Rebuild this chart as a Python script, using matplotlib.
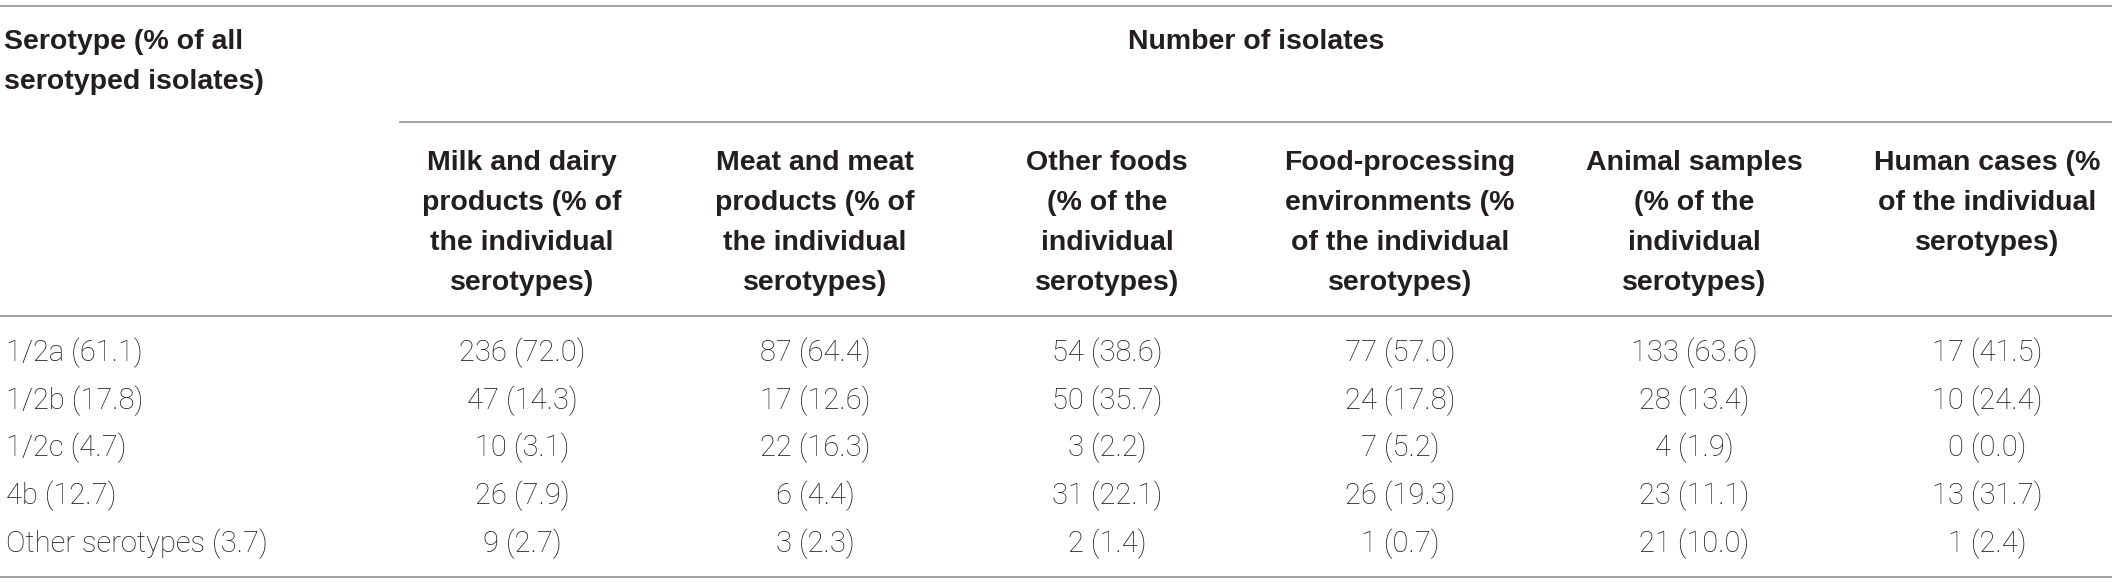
import matplotlib
matplotlib.use("Agg")
import matplotlib.pyplot as plt

# table content
serotypes = ["1/2a (61.1)", "1/2b (17.8)", "1/2c (4.7)", "4b (12.7)", "Other serotypes (3.7)"]
col_headers = [
    "Milk and dairy\nproducts (% of\nthe individual\nserotypes)",
    "Meat and meat\nproducts (% of\nthe individual\nserotypes)",
    "Other foods\n(% of the\nindividual\nserotypes)",
    "Food-processing\nenvironments (%\nof the individual\nserotypes)",
    "Animal samples\n(% of the\nindividual\nserotypes)",
    "Human cases (%\nof the individual\nserotypes)",
]
milk = ["236 (72.0)", "47 (14.3)", "10 (3.1)", "26 (7.9)", "9 (2.7)"]
meat = ["87 (64.4)", "17 (12.6)", "22 (16.3)", "6 (4.4)", "3 (2.3)"]
other_foods = ["54 (38.6)", "50 (35.7)", "3 (2.2)", "31 (22.1)", "2 (1.4)"]
food_proc = ["77 (57.0)", "24 (17.8)", "7 (5.2)", "26 (19.3)", "1 (0.7)"]
animal = ["133 (63.6)", "28 (13.4)", "4 (1.9)", "23 (11.1)", "21 (10.0)"]
human = ["17 (41.5)", "10 (24.4)", "0 (0.0)", "13 (31.7)", "1 (2.4)"]
columns = [milk, meat, other_foods, food_proc, animal, human]

W, H = 2117, 583
fig = plt.figure(figsize=(W / 100, H / 100), dpi=100)
ax = fig.add_axes([0, 0, 1, 1])
ax.set_xlim(0, W)
ax.set_ylim(H, 0)
ax.axis("off")

txt = "#231f20"
line_c = "#9a9a9a"
bold = dict(family=["Liberation Sans", "DejaVu Sans"], fontsize=20.5, fontweight="bold", color=txt)
body = dict(family=["Roboto", "Liberation Sans"], fontsize=21, fontweight="light", color="#1a1a1a")

col_x = [522, 815, 1107, 1400, 1694, 1987]
row_y = [353, 401, 448, 496, 544]

# rules
ax.plot([0, W - 6], [6, 6], color=line_c, lw=1.3)
ax.plot([400, W - 6], [122, 122], color=line_c, lw=1.3)
ax.plot([0, W - 6], [316, 316], color=line_c, lw=1.3)
ax.plot([0, W - 6], [577, 577], color=line_c, lw=1.3)

# top header
for i, s in enumerate(["Serotype (% of all", "serotyped isolates)"]):
    ax.text(4, 42 + 40 * i, s, ha="left", va="center", **bold)
ax.text(1256, 42, "Number of isolates", ha="center", va="center", **bold)

for x, h in zip(col_x, col_headers):
    for i, s in enumerate(h.split("\n")):
        ax.text(x, 163 + 40 * i, s, ha="center", va="center", **bold)

# body
for y, s in zip(row_y, serotypes):
    ax.text(6, y, s, ha="left", va="center", **body)
for x, col in zip(col_x, columns):
    for y, s in zip(row_y, col):
        ax.text(x, y, s, ha="center", va="center", **body)

fig.savefig("out.png", dpi=100, facecolor="white")
